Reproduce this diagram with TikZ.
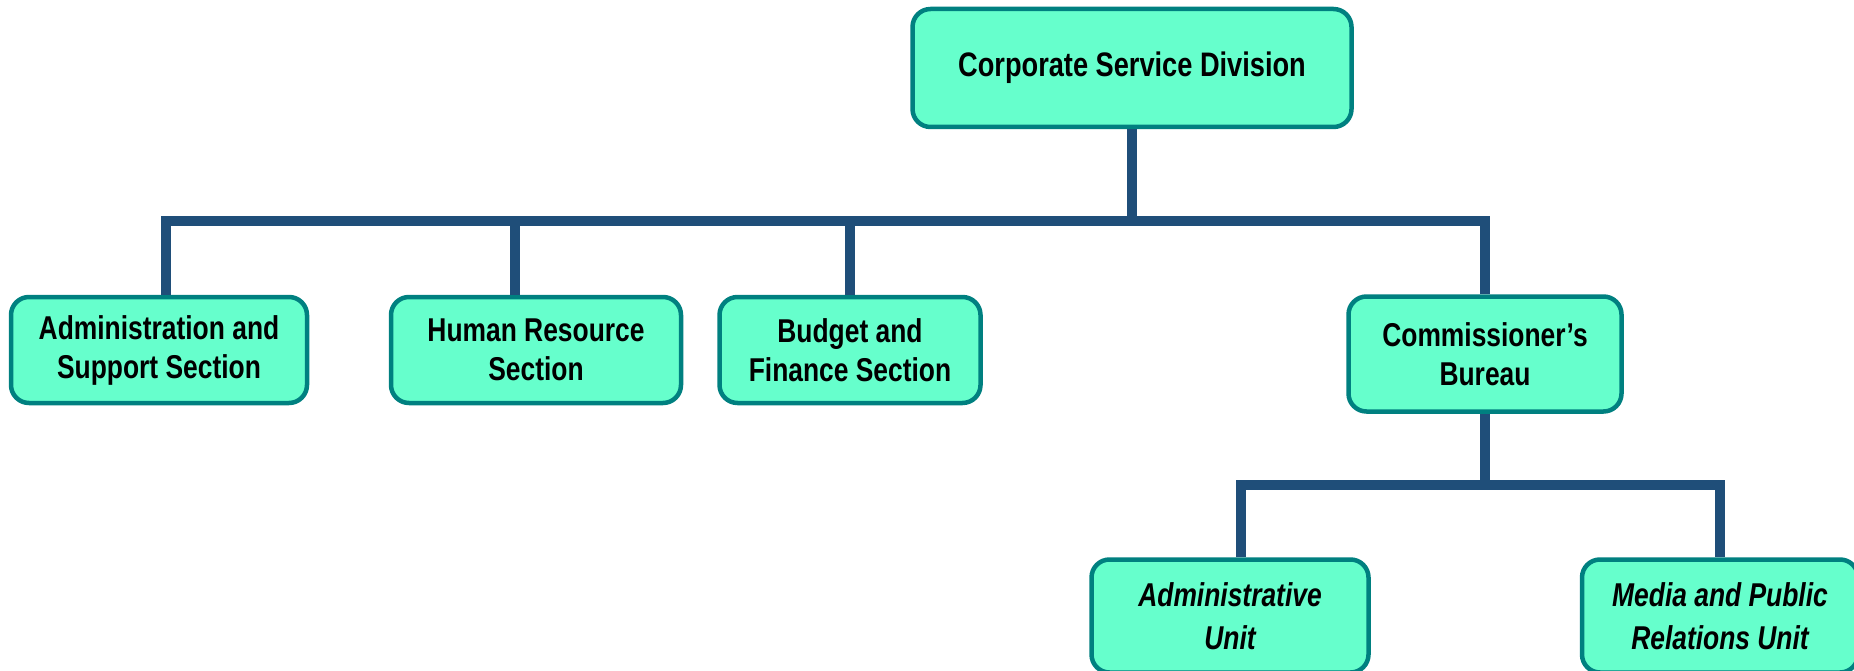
\documentclass[tikz,border=0pt]{standalone}
\usepackage{fontspec}
\newfontfamily\narrowfont{Liberation Sans}[FakeStretch=0.8]
\definecolor{boxfill}{HTML}{66FFCC}
\definecolor{boxline}{HTML}{008080}
\definecolor{connblue}{HTML}{1F4E79}
\begin{document}
\begin{tikzpicture}[x=1pt,y=-1pt,
  unitbox/.style={draw=boxline, line width=4.5pt, fill=boxfill, rounded corners=18pt,
    inner sep=0pt, align=center, font=\narrowfont\bfseries\fontsize{33}{39}\selectfont},
  unitit/.style={unitbox, font=\narrowfont\bfseries\itshape\fontsize{33}{43}\selectfont},
  conn/.style={draw=connblue, line width=10pt, line join=miter}]
\useasboundingbox (0,0) rectangle (1854,671);
\node[unitbox, minimum width=439pt, minimum height=118pt, font=\narrowfont\bfseries\fontsize{34}{40}\selectfont] (top) at (1132,68) {Corporate Service Division};
\node[unitbox, minimum width=296pt, minimum height=106pt] (admin) at (159,350) {Administration and\\Support Section};
\node[unitbox, minimum width=290pt, minimum height=106pt] (human) at (536,350) {Human Resource\\Section};
\node[unitbox, minimum width=261pt, minimum height=106pt] (budget) at (850,350) {Budget and\\Finance Section};
\node[unitbox, minimum width=273pt, minimum height=115pt] (comm) at (1485,354) {Commissioner’s\\Bureau};
\node[unitit, minimum width=277pt, minimum height=113pt] (aunit) at (1230,616) {Administrative\\Unit};
\node[unitit, minimum width=276pt, minimum height=113pt] (media) at (1720,616) {Media and Public\\Relations Unit};
\coordinate (j) at (0,221);
\coordinate (k) at (0,485);
\path[conn] (top.south) -- (top.south |- j);
\path[conn] ([xshift=7pt]admin.north) -- ([xshift=7pt]admin.north |- j) -- (comm.north |- j) -- (comm.north);
\path[conn] ([xshift=-21pt]human.north) -- ([xshift=-21pt]human.north |- j);
\path[conn] (budget.north) -- (budget.north |- j);
\path[conn] (comm.south) -- (comm.south |- k);
\path[conn] ([xshift=11pt]aunit.north) -- ([xshift=11pt]aunit.north |- k) -- (media.north |- k) -- (media.north);
\end{tikzpicture}
\end{document}
